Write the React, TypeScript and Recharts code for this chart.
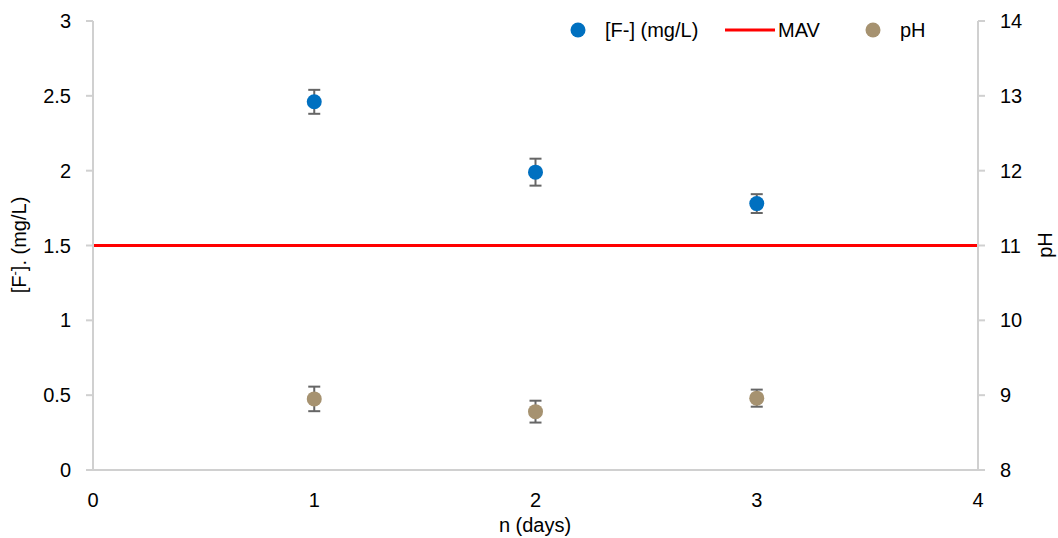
import React from 'react';
import {
  ComposedChart,
  Scatter,
  XAxis,
  YAxis,
  ErrorBar,
  ReferenceLine,
  Legend,
} from 'recharts';

const days = [1, 2, 3];
const fluoride = [2.46, 1.99, 1.78];
const fluorideErr = [0.08, 0.09, 0.063];
const ph = [8.95, 8.78, 8.96];
const phErr = [0.164, 0.146, 0.114];
const mav = 1.5;

const xTicks = [0, 1, 2, 3, 4];
const leftTicks = [0, 0.5, 1, 1.5, 2, 2.5, 3];
const rightTicks = [8, 9, 10, 11, 12, 13, 14];

const BLUE = '#0070C0';
const TAN = '#A69270';
const RED = '#FF0000';
const AXIS = '#D0D0D0';
const FONT = '"Liberation Sans", Arial, sans-serif';
const FS = 20;

const fData = days.map((d, i) => ({ day: d, value: fluoride[i], err: fluorideErr[i] }));
const phData = days.map((d, i) => ({ day: d, value: ph[i], err: phErr[i] }));

const Dot = (color: string) => (props: any) => (
  <circle cx={props.cx} cy={props.cy} r={7.5} fill={color} />
);

// tick text with an extra horizontal gap from the axis
const SideTick = (gap: number, anchor: 'start' | 'end') => (props: any) => (
  <text
    x={props.x + gap}
    y={props.y}
    dy="0.355em"
    textAnchor={anchor}
    fontSize={FS}
    fontFamily={FONT}
    fill="#000"
  >
    {props.payload.value}
  </text>
);

const LegendContent = () => (
  <svg width={400} height={26} style={{ fontFamily: FONT, display: 'block' }}>
    <circle cx={18} cy={13} r={7.5} fill={BLUE} />
    <text x={45} y={20} fontSize={FS} fill="#000">[F-] (mg/L)</text>
    <line x1={165} y1={13} x2={215} y2={13} stroke={RED} strokeWidth={3} />
    <text x={218} y={20} fontSize={FS} fill="#000">MAV</text>
    <circle cx={313} cy={13} r={7.5} fill={TAN} />
    <text x={340} y={20} fontSize={FS} fill="#000">pH</text>
  </svg>
);

const tickStyle = { fontSize: FS, fill: '#000', fontFamily: FONT };
const titleStyle: React.CSSProperties = { position: 'absolute', fontSize: FS, fontFamily: FONT, color: '#000', whiteSpace: 'nowrap' };

export default function App() {
  return (
    <div style={{ position: 'absolute', left: 0, top: 0, width: 1058, height: 538, background: '#fff' }}>
      <ComposedChart
        width={1058}
        height={538}
        margin={{ top: 21, right: 0, bottom: 0, left: 0 }}
        style={{ fontFamily: FONT }}
      >
        <XAxis
          dataKey="day"
          type="number"
          domain={[0, 4]}
          ticks={xTicks}
          tickLine={false}
          tickSize={0}
          tickMargin={23}
          height={68}
          axisLine={{ stroke: AXIS, strokeWidth: 2 }}
          tick={tickStyle}
          allowDuplicatedCategory={false}
        />
        <YAxis
          yAxisId="left"
          orientation="left"
          dataKey="value"
          type="number"
          domain={[0, 3]}
          ticks={leftTicks}
          width={93}
          tickSize={7}
          tickLine={{ stroke: AXIS, strokeWidth: 2 }}
          axisLine={{ stroke: AXIS, strokeWidth: 2 }}
          tick={SideTick(-13, 'end')}
        />
        <YAxis
          yAxisId="right"
          orientation="right"
          dataKey="value"
          type="number"
          domain={[8, 14]}
          ticks={rightTicks}
          width={80}
          tickSize={7}
          tickLine={{ stroke: AXIS, strokeWidth: 2 }}
          axisLine={{ stroke: AXIS, strokeWidth: 2 }}
          tick={SideTick(13, 'start')}
        />
        <ReferenceLine yAxisId="left" y={mav} stroke={RED} strokeWidth={3} />
        <Scatter
          name="[F-] (mg/L)"
          data={fData}
          dataKey="value"
          yAxisId="left"
          fill={BLUE}
          shape={Dot(BLUE)}
          isAnimationActive={false}
        >
          <ErrorBar dataKey="err" direction="y" width={6} stroke="#666" strokeWidth={2} />
        </Scatter>
        <Scatter
          name="pH"
          data={phData}
          dataKey="value"
          yAxisId="right"
          fill={TAN}
          shape={Dot(TAN)}
          isAnimationActive={false}
        >
          <ErrorBar dataKey="err" direction="y" width={6} stroke="#666" strokeWidth={2} />
        </Scatter>
        <Legend
          verticalAlign="middle"
          align="center"
          layout="horizontal"
          wrapperStyle={{ top: 17, left: 560, width: 400, height: 26 }}
          content={LegendContent}
        />
      </ComposedChart>
      <div style={{ ...titleStyle, left: 535, top: 525, transform: 'translate(-50%, -50%)' }}>n (days)</div>
      <div style={{ ...titleStyle, left: 19, top: 245, transform: 'translate(-50%, -50%) rotate(-90deg)' }}>
        [F<sup style={{ fontSize: 13, verticalAlign: 'top', lineHeight: 1 }}>-</sup>]. (mg/L)
      </div>
      <div style={{ ...titleStyle, left: 1045, top: 245, transform: 'translate(-50%, -50%) rotate(-90deg)' }}>pH</div>
    </div>
  );
}
